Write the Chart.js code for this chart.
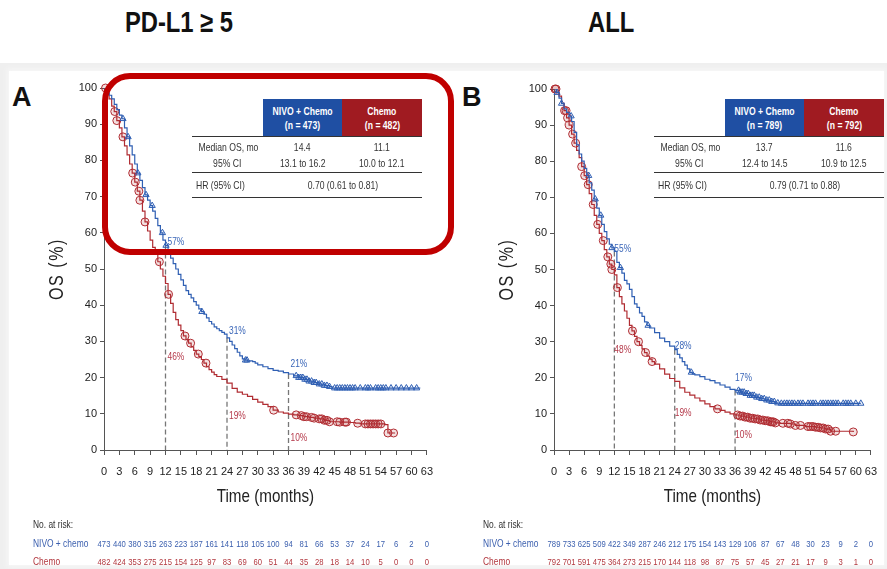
<!DOCTYPE html>
<html>
<head>
<meta charset="utf-8">
<script src="https://cdn.jsdelivr.net/npm/chart.js@4.4.0/dist/chart.umd.min.js"></script>
<style>
html, body { margin: 0; padding: 0; background: #fff; }
#page { position: relative; width: 887px; height: 569px; overflow: hidden;
  font-family: 'Liberation Sans Narrow', 'Arial Narrow', 'Liberation Sans', sans-serif; }
#frame { position: absolute; left: 0; top: 63px; right: 0; bottom: 0; background: #efefef; }
#sheet { position: absolute; left: 9px; top: 71px; right: 3px; bottom: 4px; background: #fff; box-shadow: 0 0 5px 2px #f7f7f7; }
.title { position: absolute; top: 6px; width: 200px; text-align: center; font-weight: bold; font-size: 29px; color: #111; }
.title span, .stats span { display: inline-block; transform: scaleX(0.82); }
.letter { position: absolute; top: 84px; font-weight: bold; font-size: 27px; line-height: 27px; color: #111; }
canvas { position: absolute; top: 0; }
.stats { position: absolute; top: 99px; }
.stats table { border-collapse: collapse; table-layout: fixed; width: 230px; }
.stats td { padding: 0; text-align: center; font-size: 10.5px; line-height: 16px; color: #333; white-space: nowrap; }
.stats tr.h td { height: 37px; line-height: 14px; font-weight: bold; color: #fff; }
.stats td.b { background: #1f4fa3; }
.stats td.r { background: #a01b21; }
.stats tr.m td { height: 35px; border-top: 1.5px solid #333; }
.stats tr.hr td { height: 24px; border-top: 1px solid #333; border-bottom: 1px solid #333; }
.stats td.l { text-align: left; padding-left: 4px; }
.stats td.l span { transform-origin: left center; }
#hilite { position: absolute; left: 102px; top: 73px; width: 352px; height: 182px; box-sizing: border-box;
  border: 6px solid #c00000; border-radius: 28px; }
</style>
</head>
<body>
<div id="page">
  <div id="frame"></div>
  <div id="sheet"></div>
  <div class="title" style="left:79px"><span>PD-L1 ≥ 5</span></div>
  <div class="title" style="left:511px"><span>ALL</span></div>
  <div class="letter" style="left:12px">A</div>
  <div class="letter" style="left:462px">B</div>
  <canvas id="chartA" width="443" height="569" style="left:0"></canvas>
  <canvas id="chartB" width="444" height="569" style="left:443px"></canvas>
  <div class="stats" id="statsA" style="left:192px"></div>
  <div class="stats" id="statsB" style="left:654px"></div>
  <div id="hilite"></div>
</div>
<script>
// ---- Panel A: PD-L1 >= 5 ----
var timeNivoA = [0,0.5,1,1.5,2,2.5,3,3.5,4,4.5,5,5.5,6,6.5,7,7.5,8,8.5,9,9.5,10,10.5,11,11.5,12,12.5,13,13.5,14,14.5,15,15.5,16,16.5,17,17.5,18,18.5,19,19.5,20,20.5,21,21.5,22,22.5,23,23.5,24,24.5,25,25.5,26,26.5,27,27.5,28,29,29.5,30,31,32,33,34,35,36,37,38,39,40,41,42,43,44,44.5,61.6];
var osNivoA = [100,99,98,97,95.5,94,92.5,91.5,89,86.5,84,81.5,79,76.5,74.5,72.5,70.5,69,67.5,66,64,62,60,58,56.5,55,53,51.5,50,48.5,47,45.5,44,43,42,41,40,39,38.2,37.5,36.5,35.5,34.8,34,33.5,33,32.5,32,31,30,29,28,27,26,25.2,24.8,24.6,24.4,24,23.5,23,22.5,22,21.8,21.4,21,20.5,20,19.5,19,18.6,18.2,17.8,17.5,17.1,17];
var censNivoA = [3.7,4.7,6.6,8.2,9.4,11.4,12.1,19.1,27.6,27.9,37.5,38,38.4,38.8,39.2,39.6,40,40.5,41,41.4,42,42.5,43,43.5,44,45,45.5,46,46.5,47,47.5,48,48.5,49,50,51,51.5,52,53,53.5,54,54.5,55,56,57,58,59,60,61];
var timeChemoA = [0,0.5,1,1.5,2,2.5,3,3.5,4,4.5,5,5.5,6,6.5,7,7.5,8,8.5,9,9.5,10,10.5,11,11.5,12,12.5,13,13.5,14,14.5,15,15.5,16,16.5,17,17.5,18,18.5,19,19.5,20,20.5,21,21.5,22,23,24,25,26,27,28,29,30,31,32,33,34,35,36,37,38,39,40,41,42,43,44,46,48,49,50,54.8,55.4,56.8];
var osChemoA = [100,98.5,97,95,93.5,91,89,86.5,84,81.5,79,76.5,74,71.5,69,66,63,60.5,58,56,54,52,50,48,46,43,40.5,38,36,34.5,33,31.5,30.5,29.5,28.5,27.5,26.5,25.8,25,24,23,22.2,21.5,20.8,20.3,19.5,18.5,17,16,15.4,14.8,14,13.2,12.6,12,11,10.5,10.2,9.9,9.7,9.5,9.2,9,8.8,8.6,8.2,7.8,7.7,7.6,7.4,7.2,7,4.7,4.7];
var censChemoA = [0.3,2.1,2.5,3.7,5.6,6.1,6.8,7,8,10.8,12.6,15.8,16.9,18.4,19.9,33.1,37.5,38.5,39,39.5,40.5,41,42,42.5,43,43.5,44,45.5,46,47,47.3,49.5,51,51.5,52,52.5,53,53.5,54,55.4,56.5];
var riskNivoA = [473,440,380,315,263,223,187,161,141,118,105,100,94,81,66,53,37,24,17,6,2,0];
var riskChemoA = [482,424,353,275,215,154,125,97,83,69,60,51,44,35,28,18,14,10,5,0,0,0];
var nA = [473, 482];
var medianA = ['14.4', '11.1'];
var ciA = ['13.1 to 16.2', '10.0 to 12.1'];
var hrA = '0.70 (0.61 to 0.81)';
var pctNivoA = ['57%', '31%', '21%'];
var pctChemoA = ['46%', '19%', '10%'];

// ---- Panel B: ALL ----
var timeNivoB = [0,0.5,1,1.5,2,2.5,3,3.5,4,4.5,5,5.5,6,6.5,7,7.5,8,8.5,9,9.5,10,10.5,11,11.5,12,12.5,13,13.5,14,14.5,15,15.5,16,16.5,17,17.5,18,18.5,19,20,21,22,23,24,24.5,25,25.5,26,26.5,27,27.5,28,29,30,31,32,33,34,35,36,37,38,39,40,41,42,43,44,44.8,61];
var osNivoB = [100,99,97.5,96,94.5,93.5,92.5,91,88,84.5,82,80,78,76,74,72,69.5,67,65,62.5,60.5,58.5,57,56,55,52,50.5,49,47,46,44.5,42.5,40.5,39.5,38,37,35.5,34.5,33.8,32.5,31,30,28.8,27.8,26.5,25.5,24.5,23.5,22.5,21.5,21.1,20.8,20.3,19.6,19.2,18.6,18,17.4,16.8,16.5,16,15.6,15.1,14.6,14.2,13.8,13.4,13,12.9,12.9];
var censNivoB = [0.6,1.5,3.4,6.9,8.2,9.3,11.5,13.2,18.7,27.3,36.7,37,37.4,37.8,38.2,38.6,39,39.4,39.8,40.3,40.8,41.3,41.8,42.3,42.8,43.3,43.8,44.5,45.2,45.8,46.3,46.8,47.3,47.8,48.5,49,49.5,50.5,51,51.5,52,53,53.5,54,54.5,55,55.5,56,56.5,57.5,58,58.5,59,60,61];
var timeChemoB = [0,0.5,1,1.5,2,2.5,3,3.5,4,4.5,5,5.5,6,6.5,7,7.5,8,8.5,9,9.5,10,10.5,11,11.5,12,12.5,13,13.5,14,14.5,15,15.5,16,16.5,17,17.5,18,18.5,19,19.5,20,21,22,23,24,25,26,27,28,29,30,31,32,33,34,35,36,37,38,39,40,41,42,43,44,45,47,48,50,52,53,54,55,59.5];
var osChemoB = [100,99,98,96,94,92,90,87.5,85,83,81,78.5,76,73.5,71,68,65,62.5,60,58,55.5,53.5,51.5,50,48.5,45,42.5,40.5,38.5,36.5,34.5,33,31.5,30,29,28,27,26,25.2,24.5,23.8,22.5,21,19.8,19,17.2,16,15.2,14.4,13.6,12.8,12,11.4,11,10.5,10,9.7,9.4,9.1,8.8,8.6,8.3,8.1,7.8,7.5,7.4,7.2,6.8,6.5,6.3,6.1,5.8,5.2,5];
var censChemoB = [0.2,0.4,2.1,2.4,2.7,3,3.7,4.3,5.5,6.1,6.8,7.8,8.7,9.8,10.7,11.3,11.5,12.6,15.6,16.8,18.2,19.5,32.5,36.5,37,37.5,38,38.5,39,39.5,40,40.5,41,41.5,42,42.5,43,43.3,43.6,44,45.5,46.5,47,48,49,50.5,51,51.5,52,52.5,53,53.5,54,54.5,55,56,59.5];
var riskNivoB = [789,733,625,509,422,349,287,246,212,175,154,143,129,106,87,67,48,30,23,9,2,0];
var riskChemoB = [792,701,591,475,364,273,215,170,144,118,98,87,75,57,45,27,21,17,9,3,1,0];
var nB = [789, 792];
var medianB = ['13.7', '11.6'];
var ciB = ['12.4 to 14.5', '10.9 to 12.5'];
var hrB = '0.79 (0.71 to 0.88)';
var pctNivoB = ['55%', '28%', '17%'];
var pctChemoB = ['48%', '19%', '10%'];

var landmarks = [12, 24, 36];
var monthTicks = [0,3,6,9,12,15,18,21,24,27,30,33,36,39,42,45,48,51,54,57,60,63];

var FONT = "'Liberation Sans Narrow', 'Arial Narrow', 'Liberation Sans', sans-serif";
var BLUE = '#2f5fb3';
var RED = '#b02c32';
var NARROW = 0.8; // the source uses a condensed face
Chart.defaults.font.family = FONT;
Chart.defaults.color = '#222';

function survAt(times, vals, t) {
  var v = vals[0];
  for (var i = 0; i < times.length; i++) { if (times[i] <= t) v = vals[i]; }
  return v;
}
function curve(times, vals) { return times.map(function (t, i) { return { x: t, y: vals[i] }; }); }
function marks(cens, times, vals) { return cens.map(function (t) { return { x: t, y: survAt(times, vals, t) }; }); }

function statsTable(id, n, median, ci, hr) {
  function s(t) { return '<span>' + t + '</span>'; }
  document.getElementById(id).innerHTML =
    '<table><tr class="h"><td style="width:71px"></td>' +
    '<td class="b" style="width:79px">' + s('NIVO + Chemo') + '<br>' + s('(n = ' + n[0] + ')') + '</td>' +
    '<td class="r" style="width:80px">' + s('Chemo') + '<br>' + s('(n = ' + n[1] + ')') + '</td></tr>' +
    '<tr class="m"><td>' + s('Median OS, mo') + '<br>' + s('95% CI') + '</td><td>' + s(median[0]) + '<br>' + s(ci[0]) +
    '</td><td>' + s(median[1]) + '<br>' + s(ci[1]) + '</td></tr>' +
    '<tr class="hr"><td class="l">' + s('HR (95% CI)') + '</td><td colspan="2">' + s(hr) + '</td></tr></table>';
}

// condensed text on the canvas
function narrowText(ctx, text, x, y, align, rot) {
  ctx.save();
  ctx.translate(x, y);
  if (rot) ctx.rotate(rot);
  ctx.scale(NARROW, 1);
  ctx.textAlign = align;
  ctx.fillText(text, 0, 0);
  ctx.restore();
}

// dashed landmark lines, % labels, axis titles and the risk table
function kmExtras(p) {
  return {
    id: 'kmExtras',
    beforeDatasetsDraw: function (chart) {
      var ctx = chart.ctx, x = chart.scales.x, y = chart.scales.y;
      ctx.save();
      ctx.strokeStyle = '#777';
      ctx.lineWidth = 1.3;
      ctx.setLineDash([5, 3]);
      landmarks.forEach(function (t) {
        var px = x.getPixelForValue(t);
        ctx.beginPath();
        ctx.moveTo(px, y.getPixelForValue(survAt(p.nivoT, p.nivoS, t)));
        ctx.lineTo(px, y.getPixelForValue(0));
        ctx.stroke();
      });
      ctx.restore();
    },
    afterDraw: function (chart) {
      var ctx = chart.ctx, x = chart.scales.x, y = chart.scales.y, area = chart.chartArea;
      ctx.save();
      ctx.textBaseline = 'middle';
      ctx.fillStyle = '#222';
      ctx.font = '19px ' + FONT;
      narrowText(ctx, 'Time (months)', (area.left + area.right) / 2, 497, 'center');
      ctx.font = '20px ' + FONT;
      ctx.letterSpacing = '2px';
      narrowText(ctx, 'OS (%)', p.yTitleX, (area.top + area.bottom) / 2, 'center', -Math.PI / 2);
      ctx.letterSpacing = '0px';

      ctx.font = '10.5px ' + FONT;
      landmarks.forEach(function (t, i) {
        ctx.fillStyle = '#3a66b8';
        narrowText(ctx, p.pctNivo[i], x.getPixelForValue(t) + p.dx, y.getPixelForValue(p.nivoAt[i]), 'left');
        ctx.fillStyle = '#b5394a';
        narrowText(ctx, p.pctChemo[i], x.getPixelForValue(t) + p.dx, y.getPixelForValue(p.chemoAt[i]), 'left');
      });

      ctx.fillStyle = '#333';
      narrowText(ctx, 'No. at risk:', p.riskLeft, 525, 'left');
      ctx.fillStyle = '#3b5fae';
      narrowText(ctx, 'NIVO + chemo', p.riskLeft, 544, 'left');
      ctx.fillStyle = '#b2383f';
      narrowText(ctx, 'Chemo', p.riskLeft, 562, 'left');
      ctx.font = '9.6px ' + FONT;
      monthTicks.forEach(function (m, i) {
        var px = x.getPixelForValue(m);
        ctx.fillStyle = '#3b5fae';
        narrowText(ctx, String(p.riskNivo[i]), px, 544, 'center');
        ctx.fillStyle = '#b2383f';
        narrowText(ctx, String(p.riskChemo[i]), px, 562, 'center');
      });
      ctx.restore();
    }
  };
}

function makeChart(id, p) {
  return new Chart(document.getElementById(id), {
    type: 'line',
    data: {
      datasets: [
        { data: curve(p.nivoT, p.nivoS), borderColor: BLUE, borderWidth: 1.2, stepped: true, pointRadius: 0, fill: false },
        { data: curve(p.chemoT, p.chemoS), borderColor: RED, borderWidth: 1.2, stepped: true, pointRadius: 0, fill: false },
        { data: marks(p.nivoC, p.nivoT, p.nivoS), showLine: false, pointStyle: 'triangle', pointRadius: 3.6,
          pointBorderColor: BLUE, pointBackgroundColor: 'rgba(47,95,179,0.08)', pointBorderWidth: 1, clip: false },
        { data: marks(p.chemoC, p.chemoT, p.chemoS), showLine: false, pointStyle: 'circle', pointRadius: 4,
          pointBorderColor: RED, pointBackgroundColor: 'rgba(176,44,50,0.15)', pointBorderWidth: 1, clip: false }
      ]
    },
    options: {
      responsive: false,
      animation: false,
      layout: { padding: { left: p.padLeft, top: p.padTop, right: p.padRight, bottom: 57 } },
      plugins: { legend: { display: false }, tooltip: { enabled: false } },
      scales: {
        x: {
          type: 'linear', min: 0, max: 63,
          ticks: { stepSize: 3, autoSkip: false, maxRotation: 0, padding: 10, font: { size: 11 }, color: '#222' },
          grid: { drawOnChartArea: false, tickLength: 5, color: '#555' },
          border: { color: '#555' },
          title: { display: false, text: 'Time (months)' },
          afterFit: function (s) { s.height = 62; }
        },
        y: {
          min: 0, max: 100,
          ticks: { stepSize: 10, padding: 3, font: { size: 11 }, color: '#222' },
          grid: { drawOnChartArea: false, tickLength: 4, color: '#555' },
          border: { color: '#555' },
          title: { display: false, text: 'OS (%)' },
          afterFit: function (s) { s.width = 62; }
        }
      }
    },
    plugins: [kmExtras(p)]
  });
}

statsTable('statsA', nA, medianA, ciA, hrA);
statsTable('statsB', nB, medianB, ciB, hrB);

makeChart('chartA', {
  nivoT: timeNivoA, nivoS: osNivoA, nivoC: censNivoA,
  chemoT: timeChemoA, chemoS: osChemoA, chemoC: censChemoA,
  riskNivo: riskNivoA, riskChemo: riskChemoA,
  pctNivo: pctNivoA, pctChemo: pctChemoA,
  nivoAt: [57.4, 32.9, 23.8], chemoAt: [25.7, 9.4, 3.3], dx: 2,
  padLeft: 42, padTop: 88, padRight: 14, riskLeft: 33, yTitleX: 57
});
makeChart('chartB', {
  nivoT: timeNivoB, nivoS: osNivoB, nivoC: censNivoB,
  chemoT: timeChemoB, chemoS: osChemoB, chemoC: censChemoB,
  riskNivo: riskNivoB, riskChemo: riskChemoB,
  pctNivo: pctNivoB, pctChemo: pctChemoB,
  nivoAt: [55.6, 28.8, 19.9], chemoAt: [27.7, 10.2, 4.2], dx: 0,
  padLeft: 49, padTop: 89, padRight: 9, riskLeft: 40, yTitleX: 64
});
</script>
</body>
</html>
